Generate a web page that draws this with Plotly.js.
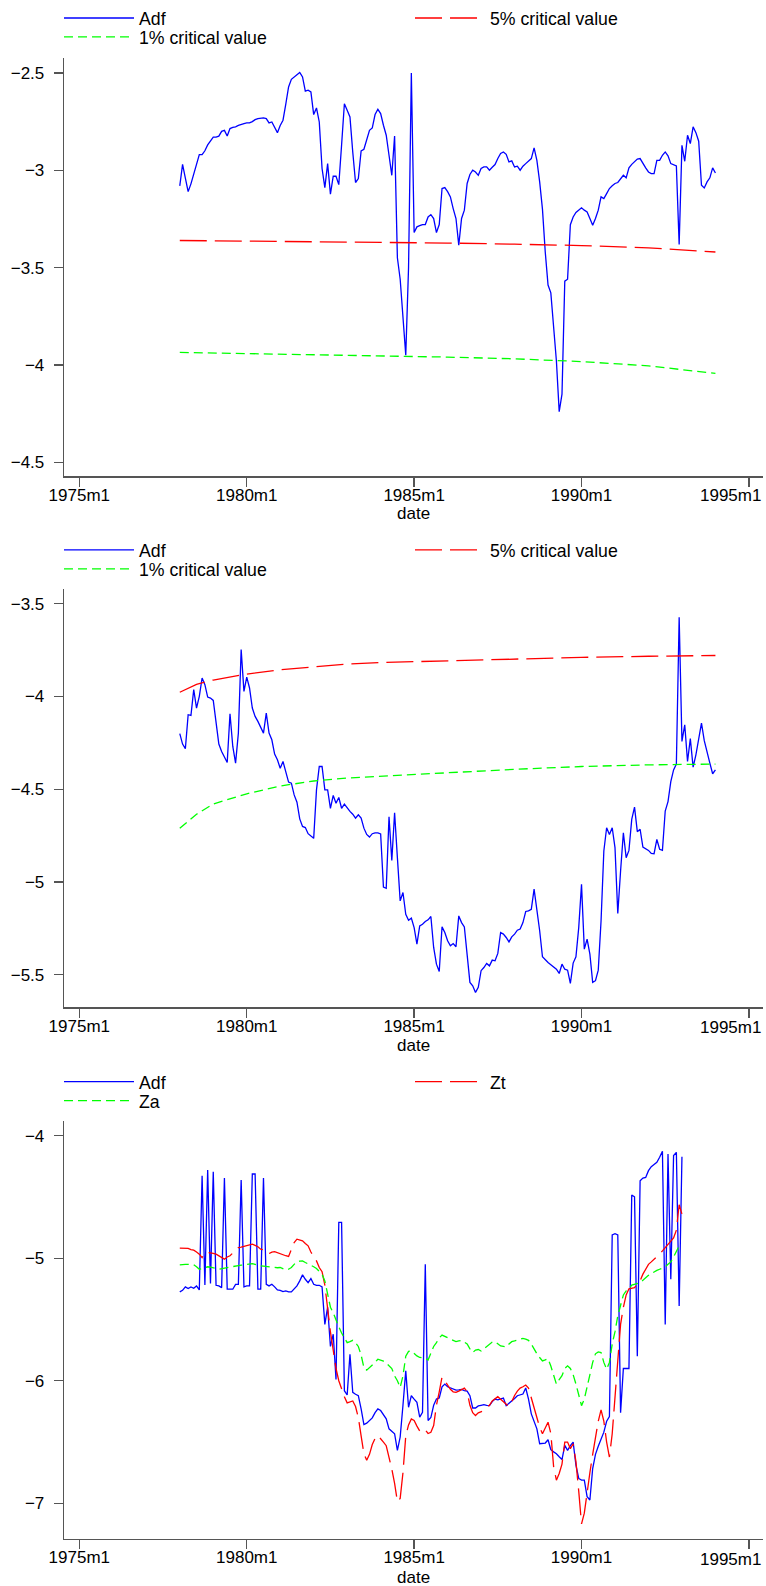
<!DOCTYPE html>
<html><head><meta charset="utf-8">
<script src="https://cdn.plot.ly/plotly-3.0.1.min.js"></script>
<style>html,body{margin:0;padding:0;background:#fff}#chart{width:766px;height:1586px}</style>
</head><body><div id="chart"></div>
<script>
// ---------- tick labels ----------
const xTickLabels = ['1975m1','1980m1','1985m1','1990m1','1995m1'];
const xTitle = 'date';
const startMonth = '1978m1';

// ---------- panel 1 ----------
const p1Names = ['Adf','5% critical value','1% critical value'];
const p1Adf = [
-3.08,-2.97,-3.04,-3.11,-3.07,-3.02,-2.97,-2.92,-2.92,-2.90,-2.87,-2.85,
-2.83,-2.83,-2.825,-2.80,-2.795,-2.824,-2.786,-2.78,-2.777,-2.77,-2.764,-2.76,
-2.757,-2.757,-2.75,-2.74,-2.735,-2.733,-2.731,-2.735,-2.757,-2.752,-2.78,-2.807,
-2.77,-2.743,-2.66,-2.572,-2.533,-2.521,-2.51,-2.498,-2.521,-2.594,-2.589,-2.598,
-2.714,-2.68,-2.752,-2.991,-3.089,-2.966,-3.123,-3.031,-3.031,-3.074,-2.87,-2.658,
-2.692,-2.726,-2.906,-3.063,-3.043,-2.901,-2.892,-2.837,-2.795,-2.783,-2.714,-2.687,
-2.709,-2.769,-2.82,-2.923,-3.026,-2.824,-3.45,-3.56,-3.75,-3.95,-3.5,-2.5,
-3.32,-3.291,-3.285,-3.279,-3.279,-3.24,-3.228,-3.248,-3.32,-3.279,-3.094,-3.089,
-3.11,-3.137,-3.197,-3.248,-3.385,-3.248,-3.205,-3.068,-3.022,-3.0,-3.009,-3.026,
-2.991,-2.983,-2.983,-3.0,-2.985,-2.971,-2.94,-2.914,-2.906,-2.918,-2.957,-2.952,
-2.983,-2.979,-3.0,-2.979,-2.966,-2.955,-2.94,-2.885,-2.949,-3.06,-3.2,-3.42,
-3.59,-3.63,-3.79,-3.98,-4.24,-4.15,-3.57,-3.56,-3.28,-3.24,-3.217,-3.205,
-3.193,-3.205,-3.214,-3.248,-3.283,-3.248,-3.205,-3.137,-3.146,-3.12,-3.094,-3.08,
-3.068,-3.063,-3.043,-3.026,-3.039,-2.988,-2.97,-2.957,-2.943,-2.94,-2.966,-2.988,
-3.009,-3.017,-3.017,-2.949,-2.949,-2.923,-2.906,-2.926,-2.966,-2.971,-2.978,-3.382,
-2.872,-2.954,-2.82,-2.863,-2.777,-2.807,-2.851,-3.077,-3.091,-3.06,-3.039,-2.988,-3.014];
const p1CritDates = ['1978m1','1980m1','1982m1','1984m1','1986m1','1988m1','1990m1','1992m1','1994m1'];
const p1Crit5 = [-3.361,-3.364,-3.367,-3.370,-3.374,-3.380,-3.387,-3.399,-3.420];
const p1Crit1 = [-3.936,-3.942,-3.947,-3.953,-3.960,-3.969,-3.983,-4.005,-4.044];
const p1YTicks = [-4.5,-4,-3.5,-3,-2.5];

// ---------- panel 2 ----------
const p2Names = ['Adf','5% critical value','1% critical value'];
const p2Adf = [
-4.201,-4.257,-4.282,-4.099,-4.103,-3.964,-4.063,-4.000,-3.901,-3.937,-4.004,-4.009,
-4.022,-4.135,-4.257,-4.297,-4.324,-4.356,-4.094,-4.270,-4.360,-4.198,-3.748,-3.973,
-3.896,-3.955,-4.063,-4.108,-4.135,-4.165,-4.198,-4.090,-4.198,-4.234,-4.311,-4.342,
-4.387,-4.351,-4.405,-4.462,-4.468,-4.531,-4.570,-4.660,-4.701,-4.707,-4.74,-4.755,
-4.765,-4.504,-4.378,-4.378,-4.504,-4.504,-4.603,-4.534,-4.576,-4.545,-4.603,-4.581,
-4.603,-4.620,-4.635,-4.656,-4.638,-4.656,-4.710,-4.744,-4.758,-4.740,-4.735,-4.735,
-4.741,-5.027,-5.034,-4.649,-4.884,-4.627,-4.869,-5.102,-5.057,-5.174,-5.206,-5.195,
-5.246,-5.335,-5.237,-5.228,-5.213,-5.204,-5.186,-5.353,-5.443,-5.482,-5.242,-5.272,
-5.317,-5.344,-5.332,-5.349,-5.183,-5.219,-5.242,-5.407,-5.541,-5.559,-5.595,-5.568,
-5.478,-5.461,-5.439,-5.452,-5.421,-5.425,-5.385,-5.272,-5.281,-5.299,-5.323,-5.296,
-5.281,-5.260,-5.254,-5.219,-5.159,-5.156,-5.147,-5.039,-5.138,-5.263,-5.403,-5.421,
-5.434,-5.446,-5.457,-5.470,-5.493,-5.443,-5.470,-5.475,-5.547,-5.437,-5.403,-5.246,
-5.013,-5.362,-5.308,-5.389,-5.541,-5.532,-5.475,-5.210,-4.833,-4.708,-4.744,-4.708,
-4.815,-5.170,-4.941,-4.735,-4.869,-4.830,-4.663,-4.597,-4.729,-4.716,-4.812,-4.821,
-4.830,-4.846,-4.848,-4.771,-4.824,-4.830,-4.618,-4.567,-4.459,-4.396,-4.365,-3.574,
-4.243,-4.153,-4.351,-4.228,-4.381,-4.315,-4.234,-4.144,-4.239,-4.306,-4.360,-4.417,-4.396];
const p2CritDates = ['1978m1','1978m4','1978m7','1979m1','1980m1','1981m1','1982m1','1983m1','1984m1','1986m1','1988m1','1990m1','1992m1','1994m1'];
const p2Crit5 = [-3.978,-3.955,-3.935,-3.912,-3.880,-3.857,-3.840,-3.826,-3.818,-3.808,-3.797,-3.790,-3.784,-3.780];
const p2Crit1 = [-4.710,-4.670,-4.635,-4.580,-4.525,-4.483,-4.456,-4.440,-4.430,-4.410,-4.393,-4.378,-4.369,-4.365];
const p2YTicks = [-5.5,-5,-4.5,-4,-3.5];

// ---------- panel 3 ----------
const p3Names = ['Adf','Zt','Za'];
const p3Adf = [
-5.275,-5.262,-5.234,-5.248,-5.234,-5.245,-5.226,-5.259,-4.327,-5.218,-4.281,-5.207,
-4.294,-5.221,-5.226,-5.24,-4.346,-5.253,-5.253,-5.253,-5.213,-5.213,-4.362,-5.234,
-5.226,-5.226,-4.313,-4.313,-5.253,-5.253,-4.346,-5.213,-5.226,-5.213,-5.234,-5.259,
-5.262,-5.273,-5.267,-5.275,-5.275,-5.253,-5.226,-5.185,-5.136,-5.172,-5.199,-5.166,
-5.213,-5.221,-5.221,-5.234,-5.54,-5.40,-5.72,-5.62,-5.99,-4.708,-4.708,-6.081,
-6.116,-5.784,-6.095,-6.11,-6.122,-6.23,-6.357,-6.346,-6.32,-6.303,-6.26,-6.23,
-6.243,-6.28,-6.311,-6.392,-6.41,-6.432,-6.568,-6.459,-6.2,-5.919,-6.216,-6.122,
-6.15,-6.176,-6.297,-6.257,-5.05,-6.324,-6.3,-6.2,-6.149,-6.14,-6.05,-6.027,
-6.049,-6.06,-6.065,-6.076,-6.074,-6.07,-6.08,-6.085,-6.122,-6.222,-6.222,-6.205,
-6.2,-6.195,-6.2,-6.203,-6.17,-6.149,-6.155,-6.15,-6.141,-6.203,-6.185,-6.168,
-6.145,-6.122,-6.115,-6.108,-6.059,-6.149,-6.27,-6.33,-6.392,-6.514,-6.51,-6.508,
-6.481,-6.562,-6.58,-6.595,-6.62,-6.643,-6.527,-6.568,-6.53,-6.5,-6.689,-6.797,
-6.811,-6.811,-6.946,-6.973,-6.716,-6.6,-6.535,-6.47,-6.419,-6.33,-6.292,-4.81,
-4.80,-4.81,-6.26,-5.9,-5.9,-5.9,-4.485,-4.499,-5.8,-4.368,-4.346,-4.341,
-4.286,-4.253,-4.235,-4.218,-4.177,-4.128,-5.54,-4.15,-5.172,-4.163,-4.136,-5.39,-4.172];
const p3Zt = [
-4.918,-4.92,-4.92,-4.92,-4.93,-4.935,-4.95,-4.967,-4.995,-4.954,-4.954,-4.954,
-4.96,-4.967,-4.98,-4.995,-5.008,-4.99,-4.98,-4.958,-4.935,-4.913,-4.91,-4.905,
-4.90,-4.89,-4.886,-4.895,-4.907,-4.926,-4.93,-4.935,-4.962,-4.95,-4.946,-4.955,
-4.962,-4.975,-4.98,-4.986,-4.93,-4.872,-4.845,-4.85,-4.858,-4.88,-4.899,-4.95,
-4.99,-5.022,-5.076,-5.11,-5.22,-5.43,-5.60,-5.75,-5.90,-6.0,-6.07,-6.13,
-6.18,-6.17,-6.165,-6.21,-6.3,-6.45,-6.595,-6.649,-6.6,-6.52,-6.47,-6.446,
-6.47,-6.5,-6.53,-6.62,-6.72,-6.838,-6.986,-6.96,-6.75,-6.45,-6.36,-6.311,
-6.324,-6.37,-6.41,-6.419,-6.40,-6.43,-6.42,-6.365,-6.2,-6.09,-5.97,-6.0,
-6.04,-6.07,-6.09,-6.095,-6.085,-6.07,-6.06,-6.09,-6.2,-6.26,-6.284,-6.262,
-6.25,-6.243,-6.22,-6.2,-6.165,-6.145,-6.13,-6.15,-6.168,-6.19,-6.211,-6.17,
-6.12,-6.085,-6.06,-6.049,-6.035,-6.06,-6.14,-6.203,-6.29,-6.38,-6.432,-6.38,
-6.338,-6.43,-6.7,-6.811,-6.757,-6.68,-6.5,-6.5,-6.554,-6.514,-6.66,-6.9,
-7.168,-7.08,-6.9,-6.75,-6.6,-6.45,-6.33,-6.238,-6.33,-6.5,-6.622,-6.432,
-6.135,-5.8,-5.54,-5.4,-5.3,-5.25,-5.245,-5.24,-5.21,-5.185,-5.13,-5.09,
-5.05,-5.03,-5.01,-4.99,-4.965,-4.94,-4.913,-4.89,-4.86,-4.835,-4.771,-4.564,-4.640];
const p3Za = [
-5.054,-5.05,-5.05,-5.05,-5.052,-5.054,-5.07,-5.09,-5.085,-5.075,-5.07,-5.073,
-5.076,-5.083,-5.09,-5.085,-5.08,-5.076,-5.073,-5.07,-5.065,-5.06,-5.057,-5.055,
-5.054,-5.05,-5.044,-5.05,-5.058,-5.063,-5.065,-5.068,-5.073,-5.078,-5.08,-5.078,
-5.076,-5.085,-5.095,-5.09,-5.076,-5.05,-5.027,-5.024,-5.022,-5.035,-5.045,-5.054,
-5.07,-5.084,-5.105,-5.131,-5.185,-5.30,-5.40,-5.446,-5.51,-5.56,-5.61,-5.65,
-5.689,-5.68,-5.67,-5.69,-5.72,-5.79,-5.892,-5.914,-5.895,-5.875,-5.85,-5.824,
-5.83,-5.84,-5.855,-5.88,-5.90,-5.96,-6.0,-6.054,-5.96,-5.80,-5.76,-5.757,
-5.78,-5.797,-5.81,-5.816,-5.816,-5.83,-5.78,-5.72,-5.689,-5.65,-5.627,-5.64,
-5.65,-5.66,-5.67,-5.68,-5.675,-5.67,-5.685,-5.70,-5.74,-5.77,-5.75,-5.745,
-5.757,-5.74,-5.716,-5.70,-5.684,-5.68,-5.70,-5.716,-5.72,-5.724,-5.70,-5.681,
-5.675,-5.67,-5.66,-5.654,-5.66,-5.67,-5.70,-5.743,-5.78,-5.81,-5.838,-5.83,
-5.82,-5.88,-5.95,-6.027,-5.99,-5.959,-5.90,-5.878,-5.9,-5.95,-6.027,-6.12,
-6.203,-6.15,-6.05,-5.93,-5.85,-5.78,-5.765,-5.77,-5.85,-5.905,-5.85,-5.70,
-5.60,-5.47,-5.38,-5.30,-5.267,-5.25,-5.22,-5.213,-5.205,-5.199,-5.18,-5.158,
-5.14,-5.125,-5.11,-5.10,-5.09,-5.08,-5.071,-5.05,-5.03,-4.99,-4.95,-4.899,-4.90];
const p3YTicks = [-7,-6,-5,-4];

// ---------- helpers ----------
function ym(s){const p=s.split('m');return (+p[0]-1960)*12+(+p[1]-1);}
function monthsFrom(start,n){const s=ym(start);return Array.from({length:n},(_,i)=>s+i);}
const fmt = v => (v<0?'\u2212':'')+Math.abs(v);

const W=766,H=1586;
const BLUE='#0000ff', RED='#ff0000', GREEN='#00ff00';
const styleAdf={color:BLUE,width:1.3,dash:'solid'};
const styleRed={color:RED,width:1.3,dash:'27px,8px'};
const styleGreen={color:GREEN,width:1.3,dash:'9px,5px'};

function line(xs,ys,name,st,xa,ya,leg){
  return {type:'scatter',mode:'lines',x:xs,y:ys,name:name,line:st,xaxis:xa,yaxis:ya,legend:leg,hoverinfo:'skip'};
}
const traces=[
  line(monthsFrom(startMonth,p1Adf.length),p1Adf,p1Names[0],styleAdf,'x','y','legend'),
  line(p1CritDates.map(ym),p1Crit5,p1Names[1],styleRed,'x','y','legend2'),
  line(p1CritDates.map(ym),p1Crit1,p1Names[2],styleGreen,'x','y','legend3'),
  line(monthsFrom(startMonth,p2Adf.length),p2Adf,p2Names[0],styleAdf,'x2','y2','legend4'),
  line(p2CritDates.map(ym),p2Crit5,p2Names[1],styleRed,'x2','y2','legend5'),
  line(p2CritDates.map(ym),p2Crit1,p2Names[2],styleGreen,'x2','y2','legend6'),
  line(monthsFrom(startMonth,p3Adf.length),p3Adf,p3Names[0],styleAdf,'x3','y3','legend7'),
  line(monthsFrom(startMonth,p3Zt.length),p3Zt,p3Names[1],styleRed,'x3','y3','legend8'),
  line(monthsFrom(startMonth,p3Za.length),p3Za,p3Names[2],styleGreen,'x3','y3','legend9'),
];

const FONT='Liberation Sans, Arial, Helvetica, sans-serif';
const AX='#555555';
const X0=64, X1=763;
const lastTick = xTickLabels[xTickLabels.length-1];
function xax(anchor){
  return {anchor:anchor,domain:[X0/W,X1/W],range:[174.5,425.05],
    tickvals:xTickLabels.map(ym),ticktext:xTickLabels.map(t=>t===lastTick?'':t),
    showline:true,linecolor:AX,linewidth:1.3,ticks:'outside',ticklen:9,tickwidth:1.3,tickcolor:AX,
    showgrid:false,zeroline:false,tickfont:{size:17,color:'#000'},ticklabelstandoff:-6};
}
function yax(anchor,top,bottom,range,ticks){
  return {anchor:anchor,domain:[1-bottom/H,1-top/H],range:range,
    tickvals:ticks,ticktext:ticks.map(fmt),
    showline:true,linecolor:AX,linewidth:1.3,ticks:'outside',ticklen:9,tickwidth:1.3,tickcolor:AX,
    showgrid:false,zeroline:false,tickfont:{size:17,color:'#000'},ticklabelstandoff:6};
}
// one legend per entry, placed at the reference's row/column positions
function leg(xpx,ypx){
  return {x:xpx/W,xanchor:'left',y:1-ypx/H,yanchor:'middle',orientation:'h',itemwidth:70,
    font:{size:17.7,color:'#000'},bgcolor:'rgba(0,0,0,0)',borderwidth:0};
}
const panelOff=[0,532.5,1065];
const annotations=[];
panelOff.forEach(off=>{
  annotations.push({xref:'paper',yref:'paper',x:((X0+X1)/2)/W,y:1-(off+512)/H,xanchor:'center',yanchor:'middle',
    text:xTitle,showarrow:false,font:{size:17,color:'#000'}});
  annotations.push({xref:'paper',yref:'paper',x:X1/W,y:1-(off+494)/H,xanchor:'right',yanchor:'middle',
    text:lastTick,showarrow:false,font:{size:17,color:'#000'}});
});
const COL1=59, COL2=410, ROW1=16.5, ROW2=35.5;
const layout={
  width:W,height:H,margin:{l:0,r:0,t:0,b:0},
  paper_bgcolor:'#fff',plot_bgcolor:'#fff',
  font:{family:FONT,size:17,color:'#000'},
  showlegend:true,hovermode:false,
  xaxis:xax('y'),yaxis:yax('x',56,475,[-4.573,-2.423],p1YTicks),
  xaxis2:xax('y2'),yaxis2:yax('x2',588,1006.7,[-5.676,-3.423],p2YTicks),
  xaxis3:xax('y3'),yaxis3:yax('x3',1120.7,1538.7,[-7.289,-3.883],p3YTicks),
  legend:leg(COL1,ROW1+panelOff[0]),legend2:leg(COL2,ROW1+panelOff[0]),legend3:leg(COL1,ROW2+panelOff[0]),
  legend4:leg(COL1,ROW1+panelOff[1]),legend5:leg(COL2,ROW1+panelOff[1]),legend6:leg(COL1,ROW2+panelOff[1]),
  legend7:leg(COL1,ROW1+panelOff[2]),legend8:leg(COL2,ROW1+panelOff[2]),legend9:leg(COL1,ROW2+panelOff[2]),
  annotations:annotations
};
Plotly.newPlot('chart',traces,layout,{staticPlot:true,displayModeBar:false});
</script></body></html>
